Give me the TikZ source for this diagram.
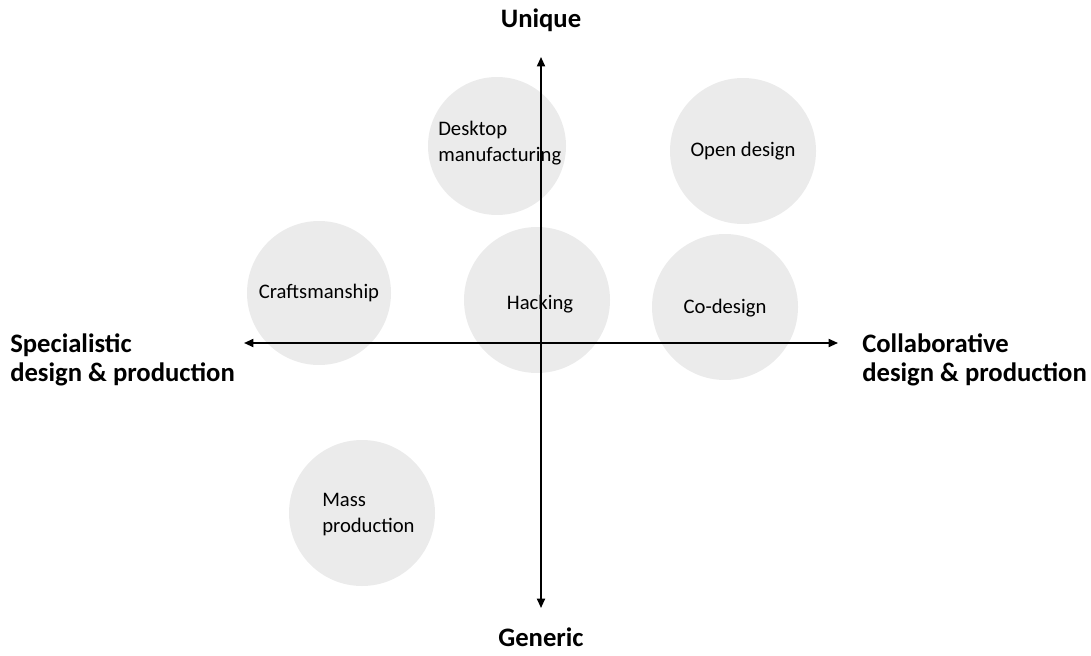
\documentclass[tikz,border=0pt]{standalone}
\usepackage{fontspec}
\setmainfont{Carlito}
\usetikzlibrary{arrows.meta}
\definecolor{blobfill}{HTML}{EBEBEB}
\begin{document}
\begin{tikzpicture}[x=0.75pt, y=-0.75pt,
  blob/.style={circle, fill=blobfill, inner sep=0pt},
  blobtext/.style={font=\fontsize{15.5}{19.5}\selectfont, inner sep=0pt},
  axislabel/.style={font=\fontsize{20}{22}\selectfont\bfseries, inner sep=0pt},
  axisline/.style={line width=1.3pt, {Triangle[length=7pt,width=6pt]}-{Triangle[length=7pt,width=6pt]}}]
\useasboundingbox (0,0) rectangle (1091,656);
% quadrant blobs
\node[blob, minimum size=138*0.75pt] (desk) at (497,146) {};
\node[blob, minimum size=146*0.75pt] (open) at (743,151) {};
\node[blob, minimum size=144*0.75pt] (craft) at (319,293) {};
\node[blob, minimum size=146*0.75pt] (hack) at (537,300) {};
\node[blob, minimum size=146*0.75pt] (codes) at (725,307) {};
\node[blob, minimum size=146*0.75pt] (mass) at (362,513) {};
% axes
\coordinate (top) at (541,57);
\coordinate (bottom) at (541,608);
\coordinate (left) at (244,343);
\coordinate (right) at (838,343);
\draw[axisline] (top) -- (bottom);
\draw[axisline] (left) -- (right);
% blob labels
\node[blobtext, align=left, anchor=west] at (438,143) {Desktop\\manufacturing};
\node[blobtext] at (open.center) {Open design};
\node[blobtext] at (craft.center) {Craftsmanship};
\node[blobtext] at (540,304) {Hacking};
\node[blobtext] at (725,308) {Co-design};
\node[blobtext, align=left, anchor=west] at (322,515) {Mass\\production};
% axis labels
\node[axislabel] (uniq) at (541,20) {Unique};
\node[axislabel] (gen) at (541,637) {Generic};
\node[axislabel, align=left, anchor=west] (spec) at (10,360) {Specialistic\\design \& production};
\node[axislabel, align=left, anchor=west] (coll) at (862,360) {Collaborative\\design \& production};
\end{tikzpicture}
\end{document}
